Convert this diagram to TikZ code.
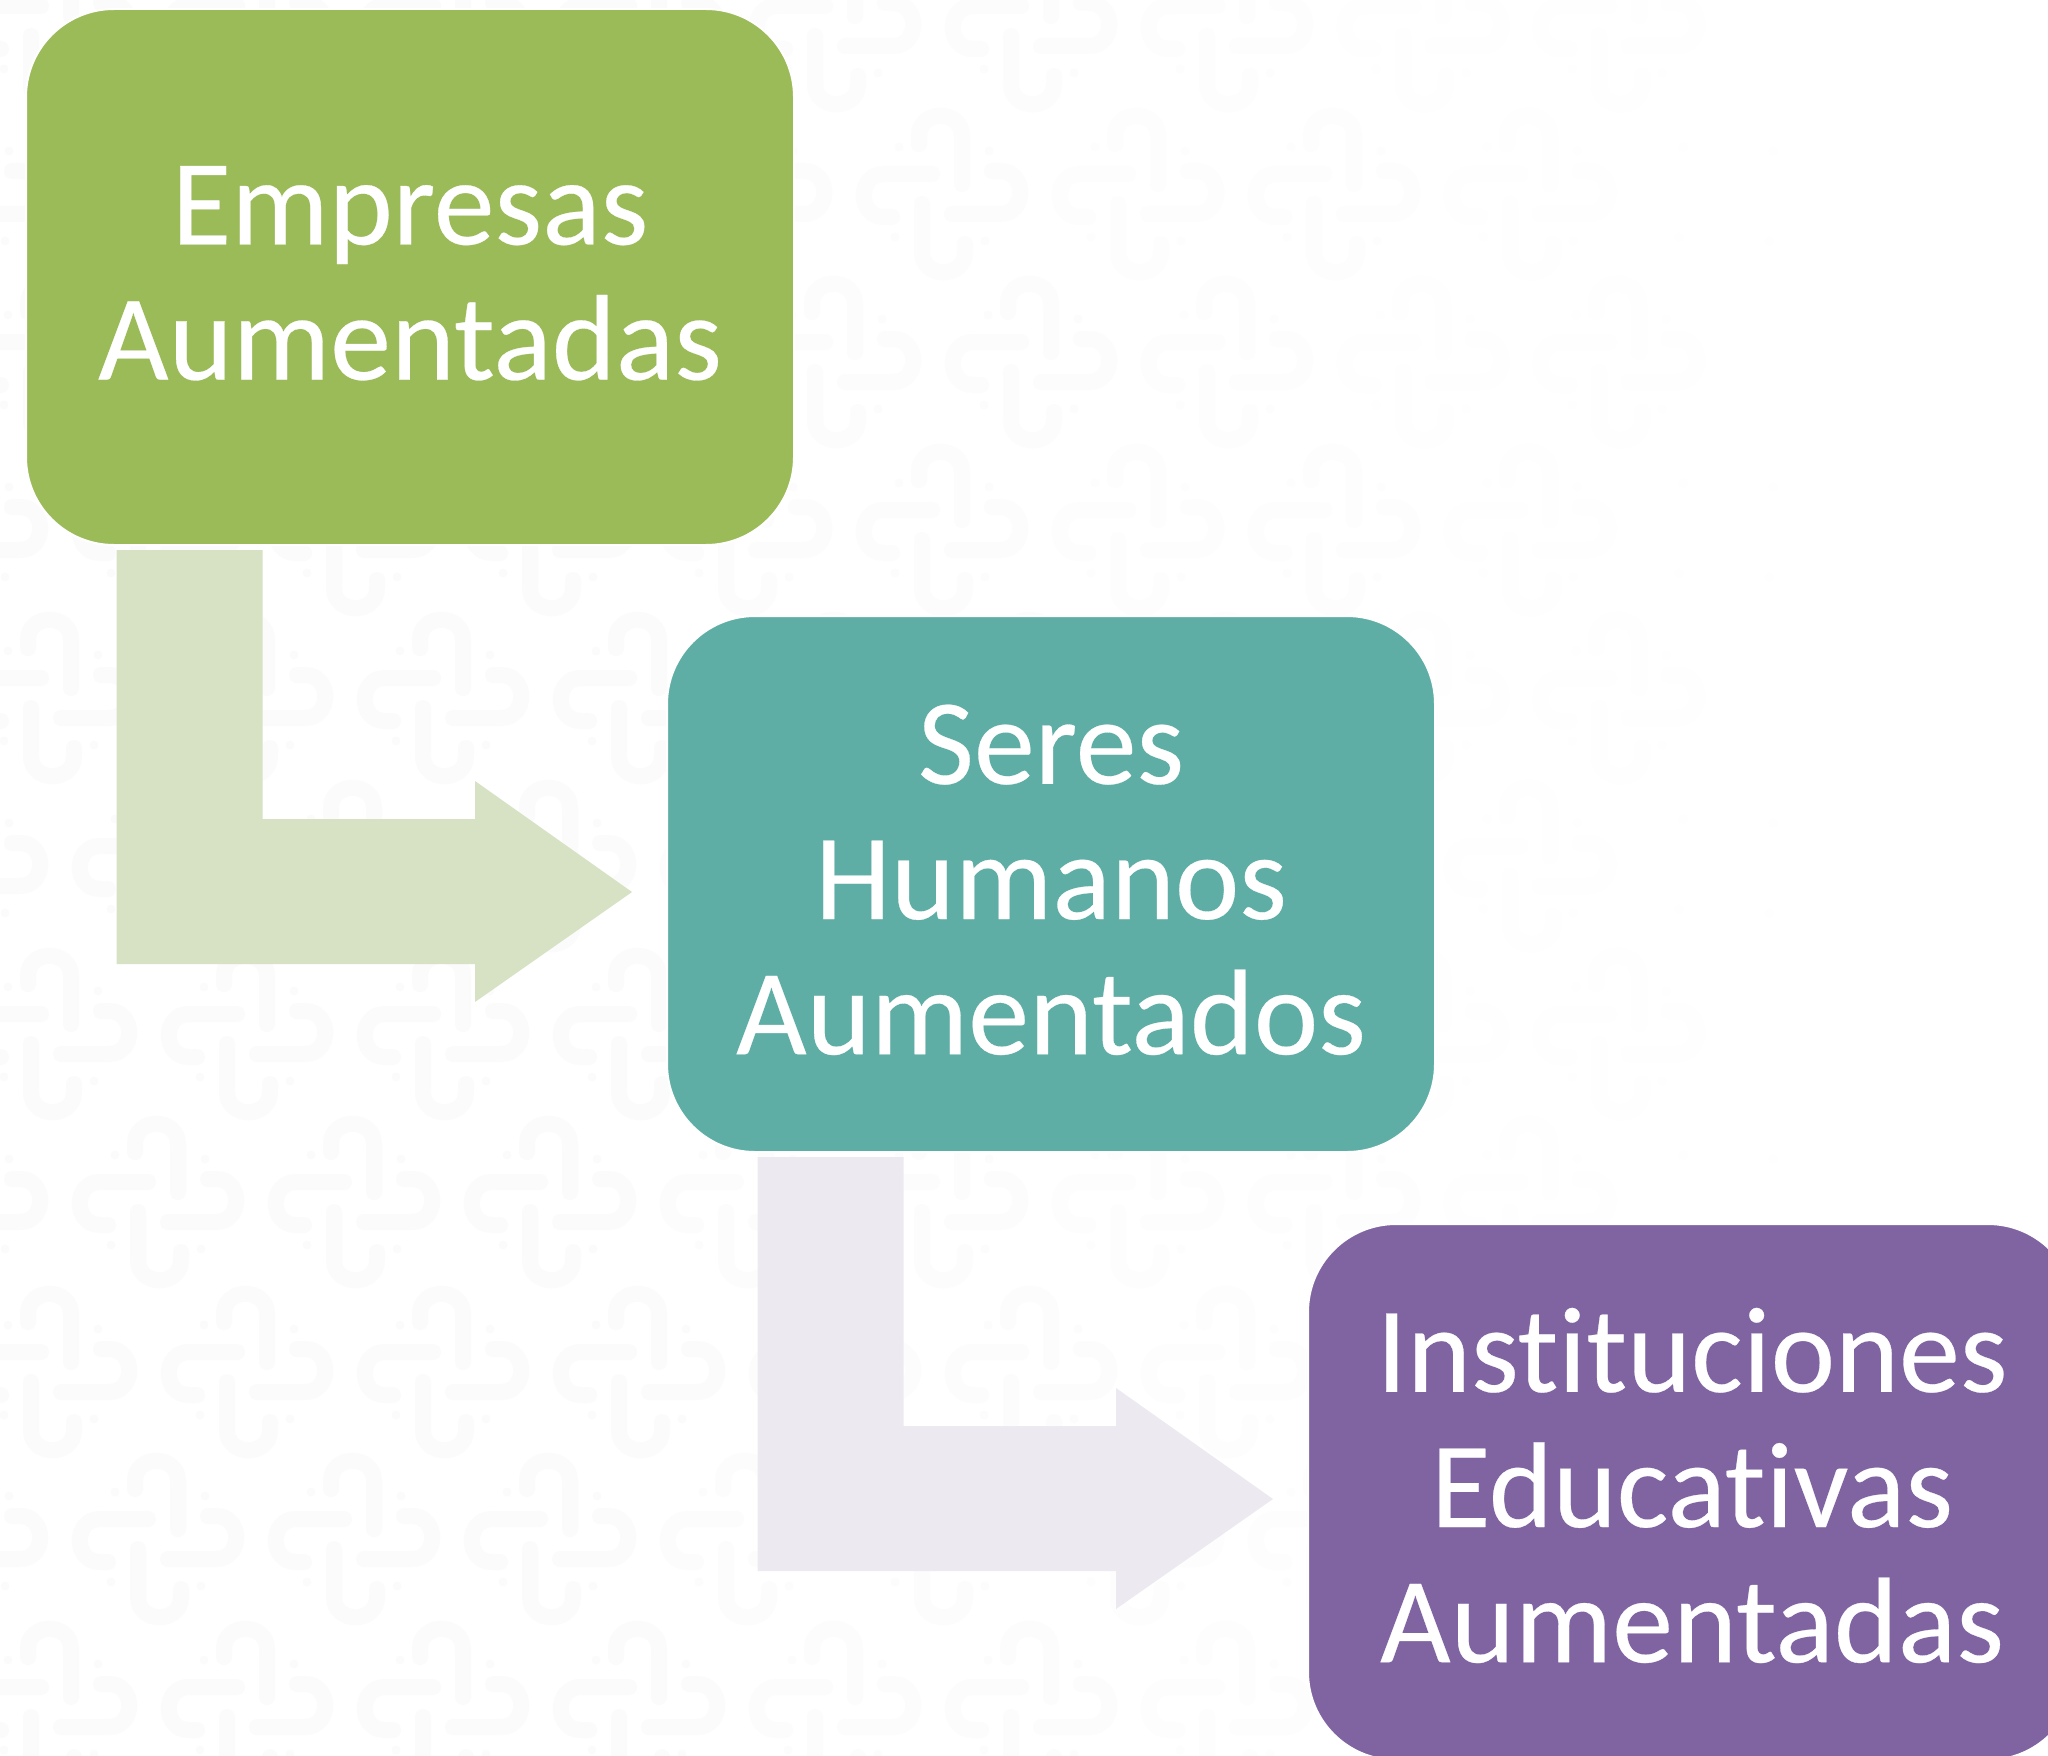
\documentclass[tikz,border=0pt]{standalone}
\usepackage{fontspec}
\newfontfamily\boxfont[FakeBold=0.22,Ligatures=NoCommon]{Carlito}
\definecolor{boxgreen}{HTML}{9BBB59}
\definecolor{boxteal}{HTML}{5FAEA6}
\definecolor{boxpurple}{HTML}{8064A2}
\definecolor{arrowgreen}{HTML}{D7E2C5}
\definecolor{arrowlilac}{HTML}{ECEAF0}
\tikzset{
  box/.style={draw=white,line width=1pt,rounded corners=44pt,minimum width=384pt,minimum height=268pt,
    inner sep=0pt,text=white,font=\boxfont\fontsize{61}{67.6}\selectfont},
  blockarrow/.style={draw=none},
  knotline/.style={line width=8pt,line cap=round}
}
\newcommand{\boxlines}[1]{\smash{\raisebox{-10.2pt}{\begin{tabular}{@{}c@{}}#1\end{tabular}}}}
\newcommand{\knotmotif}[3]{%
  \foreach \k in {0,90,180,270}{%
    \begin{scope}[shift={(#1,#2)},rotate=\k]
      \draw[knotline,draw=black!#3] (-23,-50) -- (-23,-58) .. controls (-23,-85) and (20,-85) .. (20,-58) -- (20,-10);
      \fill[black!#3] (-43,-47) circle (2.2pt);
    \end{scope}}%
}
\begin{document}
\begin{tikzpicture}[x=0.5pt,y=-0.5pt]
\useasboundingbox (0,0) rectangle (2048,1755);
\clip (0,0) rectangle (2048,1755);
\fill[white] (0,0) rectangle (2048,1755);
\foreach \ry/\rx in {26/51,194/-38,362/51,530/-38,698/51,866/-38,1034/51,1202/-38,1372/51,1539/-38,1707/51}{
  \foreach \c in {0,...,10}{
    \pgfmathsetmacro{\mx}{\rx+196*\c}
    \pgfmathsetmacro{\shade}{max(0.15,min(1.5,1.5-1.3*(\mx-600)/1100))}
    \knotmotif{\mx}{\ry}{\shade}
  }
}
\node[box,fill=boxgreen] (empresas) at (410,277) {\boxlines{Empresas\\Aumentadas}};
\node[box,fill=boxteal] (seres) at (1051,884) {\boxlines{Seres\\Humanos\\Aumentados}};
\node[box,fill=boxpurple] (instituciones) at (1692,1492) {\boxlines{Instituciones\\Educativas\\Aumentadas}};
\fill[arrowgreen,blockarrow] (116.5,550) -- (262.5,550) -- (262.5,819) -- (475,819) -- (475,781) -- (632,892) -- (475,1002) -- (475,964) -- (116.5,964) -- cycle;
\fill[arrowlilac,blockarrow] (757.5,1157) -- (903.5,1157) -- (903.5,1426) -- (1116,1426) -- (1116,1388) -- (1273,1499) -- (1116,1609) -- (1116,1571) -- (757.5,1571) -- cycle;
\end{tikzpicture}
\end{document}
